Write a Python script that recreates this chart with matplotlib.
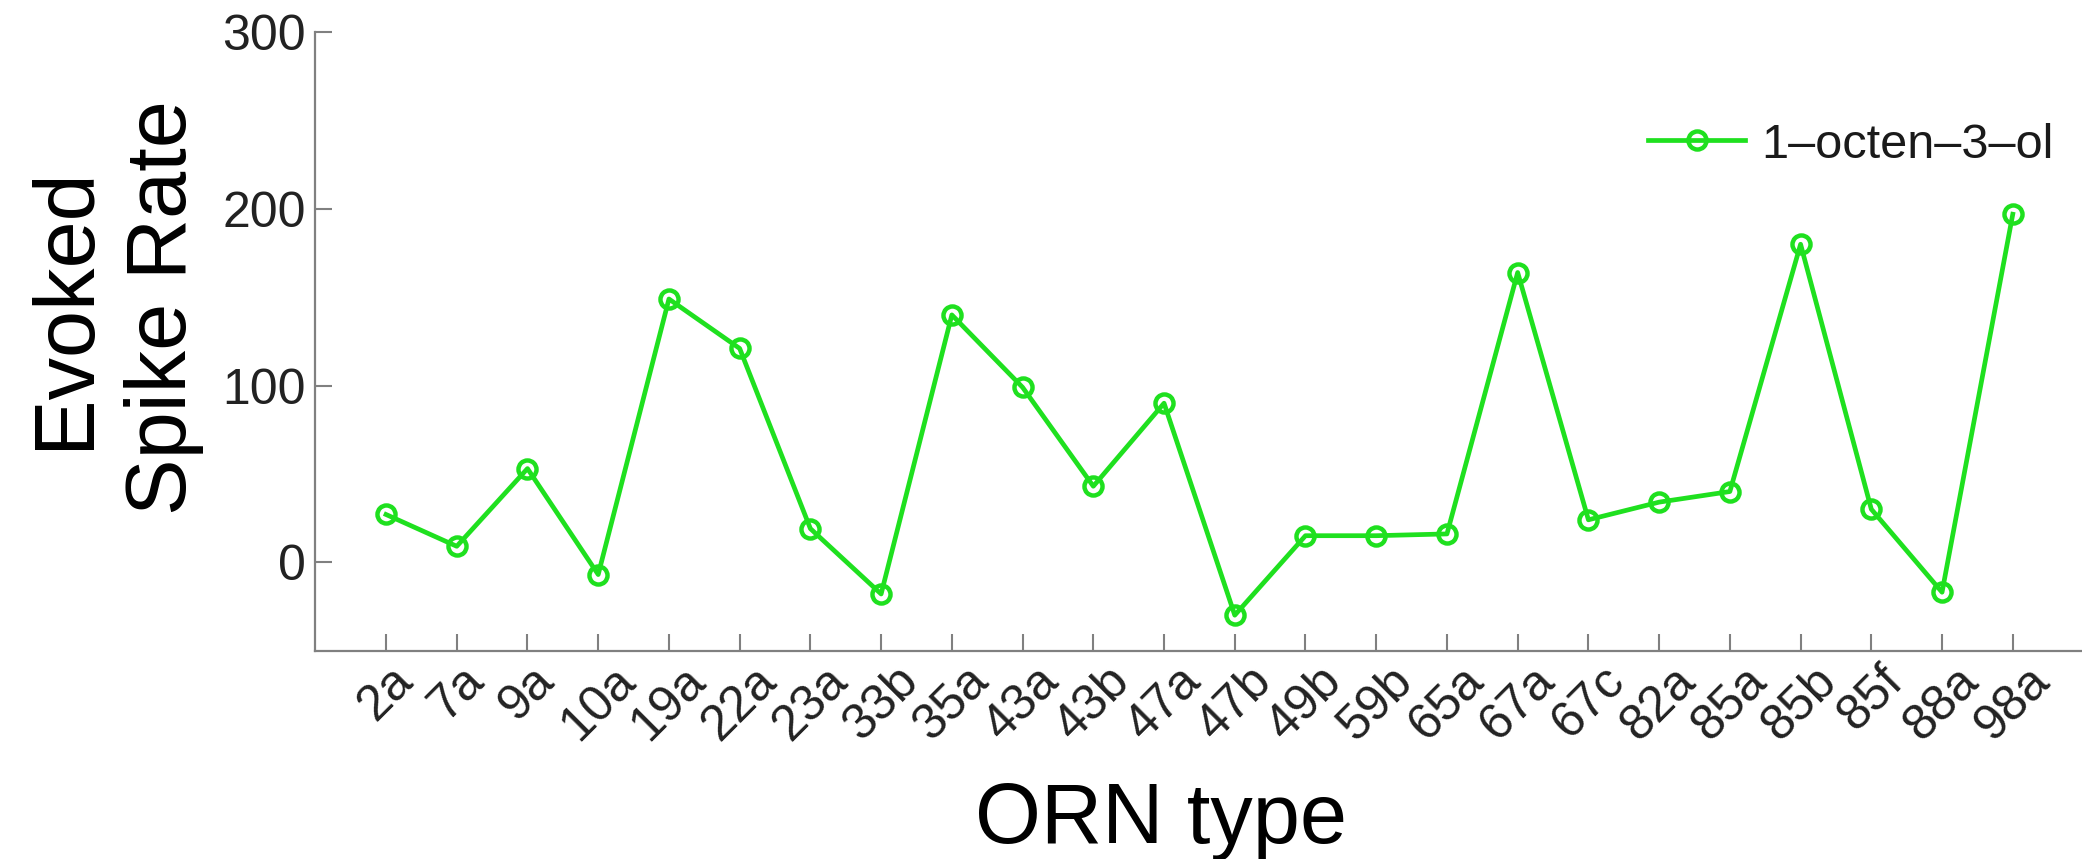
import matplotlib
matplotlib.use("Agg")
import matplotlib.pyplot as plt

# ---- data ----
orn_types = ['2a', '7a', '9a', '10a', '19a', '22a', '23a', '33b', '35a', '43a', '43b', '47a',
             '47b', '49b', '59b', '65a', '67a', '67c', '82a', '85a', '85b', '85f', '88a', '98a']
spike_rate = [27, 9, 53, -7, 149, 121, 19, -18, 140, 99, 43, 90,
              -30, 15, 15, 16, 164, 24, 34, 40, 180, 30, -17, 197]
series_name = '1\u2013octen\u20133\u2013ol'
y_ticks = [0, 100, 200, 300]

W, H = 2082, 859
DPI = 100
plt.rcParams['font.family'] = ['Liberation Sans', 'DejaVu Sans']

fig = plt.figure(figsize=(W / DPI, H / DPI), dpi=DPI)
fig.patch.set_facecolor('white')

# axes placement (pixel based)
ax_left, ax_right = 315.3, 2083.5
ax_top, ax_bottom = 32.3, 650.5
ax = fig.add_axes([ax_left / W, 1 - ax_bottom / H,
                   (ax_right - ax_left) / W, (ax_bottom - ax_top) / H])

green = '#1fe01f'
xpos = list(range(1, len(orn_types) + 1))
ax.plot(xpos, spike_rate, color=green, lw=3.4, marker='o', ms=13,
        mfc='none', mec=green, mew=3.2, label=series_name, clip_on=False)

ax.set_xlim(0, 25)
ax.set_ylim(-50, 300)
ax.set_yticks(y_ticks)
ax.set_yticklabels([str(v) for v in y_ticks])
ax.set_xticks(xpos)
ax.set_xticklabels(orn_types, rotation=45, ha='center', va='top')

spine_col = '#808080'
for s in ['top', 'right']:
    ax.spines[s].set_visible(False)
for s in ['left', 'bottom']:
    ax.spines[s].set_color(spine_col)
    ax.spines[s].set_linewidth(1.6)

ax.tick_params(axis='both', direction='in', length=12, width=1.5, color=spine_col,
               labelcolor='#222222', labelsize=36)
ax.tick_params(axis='y', pad=7)
ax.tick_params(axis='x', pad=5)

# axis labels
fig.text(115 / W, 1 - 308 / H, 'Evoked\nSpike Rate', rotation=90, ha='center', va='center',
         fontsize=61, color='black', multialignment='center', linespacing=1.28)
fig.text(1161 / W, 16 / H, 'ORN type', ha='center', va='baseline', fontsize=61, color='black')

leg = ax.legend(loc='center left', bbox_to_anchor=(1648 / W, 1 - 145 / H),
                bbox_transform=fig.transFigure, frameon=False, fontsize=35,
                handlelength=2.0, handletextpad=0.32, borderpad=0, borderaxespad=0,
                labelcolor='#1a1a1a')

fig.savefig('out.png', dpi=DPI, facecolor='white')
